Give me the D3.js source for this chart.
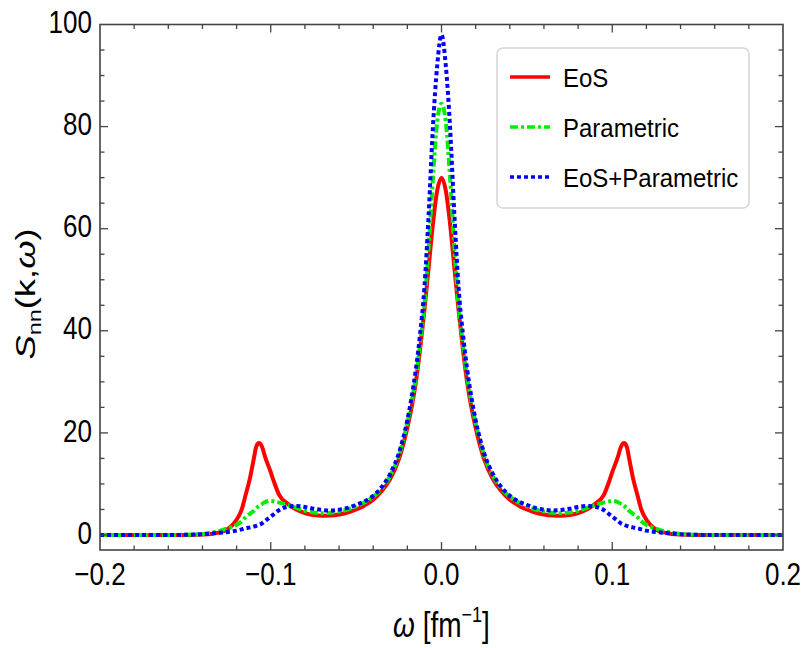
<!DOCTYPE html>
<html>
<head>
<meta charset="utf-8">
<script src="https://cdn.jsdelivr.net/npm/d3@7"></script>
<style>
  html, body { margin: 0; padding: 0; background: #fff; }
  svg { display: block; }
  text { font-family: "Liberation Sans", Arial, sans-serif; fill: #000; }
</style>
</head>
<body>
<svg id="chart" width="806" height="648"></svg>
<script>
// Frequency grid ω [fm^-1]
const omega = [
  -0.2, -0.18, -0.16, -0.15, -0.145, -0.14, -0.135, -0.13, -0.125, -0.12, -0.117, -0.115,
  -0.112, -0.11, -0.1085, -0.107, -0.105, -0.1035, -0.1, -0.0985, -0.095, -0.09, -0.085,
  -0.08, -0.075, -0.07, -0.065, -0.06, -0.055, -0.05, -0.045, -0.04, -0.035, -0.03, -0.025,
  -0.02, -0.0175, -0.015, -0.0125, -0.01, -0.0075, -0.005, -0.0025,
  0,
  0.0025, 0.005, 0.0075, 0.01, 0.0125, 0.015, 0.0175, 0.02, 0.025, 0.03, 0.035, 0.04,
  0.045, 0.05, 0.055, 0.06, 0.065, 0.07, 0.075, 0.08, 0.085, 0.09, 0.095, 0.0985, 0.1,
  0.1035, 0.105, 0.107, 0.1085, 0.11, 0.112, 0.115, 0.117, 0.12, 0.125, 0.13, 0.135, 0.14,
  0.145, 0.15, 0.16, 0.18, 0.2
];

// S_nn(k, ω) for the EoS model
const eos = [
  0, 0, 0, 0, 0.03, 0.08, 0.2, 0.5, 1.2, 3.0, 5.0, 7.5,
  11.4, 14.8, 17.3, 18.0, 17.2, 15.5, 12.3, 10.8, 7.8, 6.1, 5.0,
  4.3, 3.9, 3.75, 3.8, 4.0, 4.4, 5.0, 5.8, 6.9, 8.6, 11.0, 14.8,
  21, 25, 30, 36.5, 44, 52.5, 61, 67.5,
  70,
  67.5, 61, 52.5, 44, 36.5, 30, 25, 21, 14.8, 11.0, 8.6, 6.9,
  5.8, 5.0, 4.4, 4.0, 3.8, 3.75, 3.9, 4.3, 5.0, 6.1, 7.8, 10.8, 12.3,
  15.5, 17.2, 18.0, 17.3, 14.8, 11.4, 7.5, 5.0, 3.0, 1.2, 0.5, 0.2, 0.08,
  0.03, 0, 0, 0, 0
];

// S_nn(k, ω) for the parametric model
const parametric = [
  0, 0, 0, 0.04, 0.1, 0.2, 0.45, 0.8, 1.35, 2.0, 2.7, 3.4,
  4.2, 4.7, 5.2, 5.7, 6.1, 6.4, 6.7, 6.6, 6.35, 5.9, 5.3,
  4.75, 4.4, 4.25, 4.35, 4.6, 5.0, 5.6, 6.4, 7.5, 9.1, 11.6, 15.5,
  22, 26, 31, 37.5, 45, 56.5, 70, 81,
  84.5,
  81, 70, 56.5, 45, 37.5, 31, 26, 22, 15.5, 11.6, 9.1, 7.5,
  6.4, 5.6, 5.0, 4.6, 4.35, 4.25, 4.4, 4.75, 5.3, 5.9, 6.35, 6.6, 6.7,
  6.4, 6.1, 5.7, 5.2, 4.7, 4.2, 3.4, 2.7, 2.0, 1.35, 0.8, 0.45, 0.2,
  0.1, 0.04, 0, 0, 0
];

// S_nn(k, ω) for EoS + parametric
const eosParametric = [
  0, 0, 0, 0.03, 0.08, 0.15, 0.3, 0.45, 0.6, 0.85, 1.1, 1.3,
  1.5, 1.65, 1.8, 2.0, 2.3, 2.7, 3.6, 4.0, 4.9, 5.55, 5.7,
  5.5, 5.15, 4.9, 4.8, 4.95, 5.3, 5.9, 6.6, 7.7, 9.4, 12.0, 16.0,
  22.5, 27, 32.5, 39.5, 48.5, 63, 80, 92,
  98,
  92, 80, 63, 48.5, 39.5, 32.5, 27, 22.5, 16.0, 12.0, 9.4, 7.7,
  6.6, 5.9, 5.3, 4.95, 4.8, 4.9, 5.15, 5.5, 5.7, 5.55, 4.9, 4.0, 3.6,
  2.7, 2.3, 2.0, 1.8, 1.65, 1.5, 1.3, 1.1, 0.85, 0.6, 0.45, 0.3, 0.15,
  0.08, 0.03, 0, 0, 0
];

const seriesNames = ["EoS", "Parametric", "EoS+Parametric"];
const seriesColors = ["#ff0000", "#00ee00", "#0000ff"];
const seriesDash = [null, "8,3,3,3", "4,3"];
const seriesValues = [eos, parametric, eosParametric];

const xMajorTicks = [-0.2, -0.1, 0.0, 0.1, 0.2];
const xTickLabels = ["\u22120.2", "\u22120.1", "0.0", "0.1", "0.2"];
const yMajorTicks = [0, 20, 40, 60, 80, 100];
const yTickLabels = ["0", "20", "40", "60", "80", "100"];

// Layout
const frame = { left: 100, right: 783, top: 24.5, bottom: 550 };
const x = d3.scaleLinear().domain([-0.2, 0.2]).range([frame.left, frame.right]);
const y = d3.scaleLinear().domain([0, 100]).range([535, frame.top]);

const svg = d3.select("#chart");
const frameColor = "#444";

svg.append("defs").append("clipPath").attr("id", "plotClip")
  .append("rect")
  .attr("x", frame.left).attr("y", frame.top - 3)
  .attr("width", frame.right - frame.left)
  .attr("height", frame.bottom - frame.top + 3);

// Curves
const line = d3.line()
  .x((d, i) => x(omega[i]))
  .y(d => y(d))
  .curve(d3.curveMonotoneX);

const curves = svg.append("g").attr("clip-path", "url(#plotClip)");
seriesValues.forEach((vals, k) => {
  curves.append("path")
    .attr("d", line(vals))
    .attr("fill", "none")
    .attr("stroke", seriesColors[k])
    .attr("stroke-width", 4)
    .attr("stroke-linejoin", "round")
    .attr("stroke-dasharray", seriesDash[k]);
});

// Frame
svg.append("rect")
  .attr("x", frame.left).attr("y", frame.top)
  .attr("width", frame.right - frame.left).attr("height", frame.bottom - frame.top)
  .attr("fill", "none").attr("stroke", frameColor).attr("stroke-width", 1.6);

// Ticks: inward, on all four sides
const ticksG = svg.append("g").attr("stroke", frameColor).attr("stroke-width", 1.3);
const xMinor = d3.range(-0.2, 0.2001, 0.02).map(v => +v.toFixed(3));
xMinor.forEach(v => {
  const major = xMajorTicks.some(m => Math.abs(m - v) < 1e-9);
  if (v <= -0.2 + 1e-9 || v >= 0.2 - 1e-9) return;
  const len = major ? 8 : 4.5;
  ticksG.append("line").attr("x1", x(v)).attr("x2", x(v))
    .attr("y1", frame.bottom).attr("y2", frame.bottom - len);
  ticksG.append("line").attr("x1", x(v)).attr("x2", x(v))
    .attr("y1", frame.top).attr("y2", frame.top + len);
});
const yMinor = d3.range(0, 100.001, 5);
yMinor.forEach(v => {
  const major = v % 20 === 0;
  if (v >= 100) return;
  const len = major ? 8 : 4.5;
  ticksG.append("line").attr("x1", frame.left).attr("x2", frame.left + len)
    .attr("y1", y(v)).attr("y2", y(v));
  ticksG.append("line").attr("x1", frame.right).attr("x2", frame.right - len)
    .attr("y1", y(v)).attr("y2", y(v));
});

// Text helper with a vertical stretch around the baseline
function stretchedText(parent, px, py, sy, size, anchor) {
  return parent.append("text")
    .attr("transform", `translate(${px},${py}) scale(1,${sy})`)
    .attr("font-size", size)
    .attr("text-anchor", anchor);
}

// Tick labels
xMajorTicks.forEach((v, i) => {
  stretchedText(svg, x(v), 585, 1.22, 26, "middle").text(xTickLabels[i]);
});
yMajorTicks.forEach((v, i) => {
  stretchedText(svg, 92, y(v) + 8.6, 1.22, 26, "end").text(yTickLabels[i]);
});

// Axis titles
const xt = stretchedText(svg, 441.5, 637, 1.25, 28, "middle");
xt.append("tspan").attr("font-style", "italic").text("\u03c9");
xt.append("tspan").text(" [fm");
xt.append("tspan").attr("font-size", 18).attr("dy", -12).text("\u22121");
xt.append("tspan").attr("dy", 12).text("]");

const yt = svg.append("text")
  .attr("transform", "translate(35,294) rotate(-90) scale(1.3,1)")
  .attr("font-size", 28)
  .attr("text-anchor", "middle");
yt.append("tspan").attr("font-style", "italic").text("S");
yt.append("tspan").attr("font-size", 18).attr("dy", 6).text("nn");
yt.append("tspan").attr("dy", -6).text("(k,");
yt.append("tspan").attr("font-style", "italic").text("\u03c9");
yt.append("tspan").text(")");

// Legend
const legend = svg.append("g");
legend.append("rect")
  .attr("x", 497).attr("y", 48).attr("width", 252).attr("height", 160)
  .attr("rx", 6).attr("ry", 6)
  .attr("fill", "#fff").attr("stroke", "#d4d4d4").attr("stroke-width", 1.5);
seriesNames.forEach((name, k) => {
  const ly = 77 + k * 50;
  legend.append("line")
    .attr("x1", 510).attr("x2", 550).attr("y1", ly).attr("y2", ly)
    .attr("stroke", seriesColors[k]).attr("stroke-width", 3.5)
    .attr("stroke-dasharray", seriesDash[k]);
  stretchedText(legend, 563, ly + 9.7, 1.07, 24, "start").text(name);
});
</script>
</body>
</html>
